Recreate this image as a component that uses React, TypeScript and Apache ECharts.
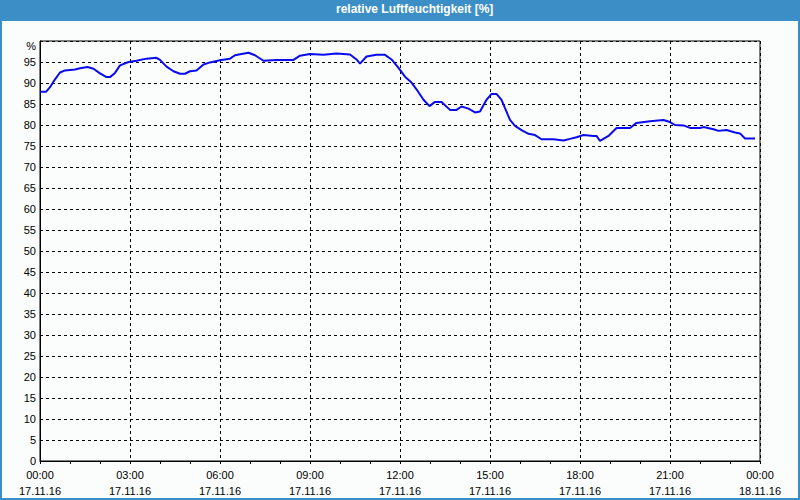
import React, { useEffect, useRef } from "react";
import * as echarts from "echarts";

const titleText = "relative Luftfeuchtigkeit [%]";
const xTickLabels = ["00:00\n17.11.16", "03:00\n17.11.16", "06:00\n17.11.16", "09:00\n17.11.16", "12:00\n17.11.16", "15:00\n17.11.16", "18:00\n17.11.16", "21:00\n17.11.16", "00:00\n18.11.16"];
// minutes since 17.11.16 00:00
const minutes = [0, 12, 20, 29, 40, 50, 70, 80, 95, 107, 120, 133, 140, 150, 160, 177, 193, 213, 233, 240, 253, 267, 280, 290, 300, 313, 327, 340, 360, 380, 390, 403, 417, 430, 447, 473, 507, 520, 540, 567, 593, 620, 633, 640, 653, 673, 690, 703, 717, 730, 743, 753, 767, 779, 790, 803, 820, 833, 843, 857, 870, 880, 893, 903, 913, 923, 930, 940, 950, 963, 977, 990, 1003, 1027, 1047, 1060, 1073, 1087, 1107, 1113, 1120, 1137, 1153, 1180, 1193, 1220, 1247, 1260, 1270, 1287, 1300, 1320, 1327, 1347, 1357, 1373, 1390, 1400, 1410, 1430];
const humidity = [87.9, 87.9, 89, 90.7, 92.5, 93.0, 93.2, 93.5, 93.8, 93.4, 92.3, 91.4, 91.4, 92.4, 94.2, 95.0, 95.3, 95.8, 96.0, 95.5, 93.9, 92.8, 92.2, 92.2, 92.8, 93.0, 94.4, 94.9, 95.4, 95.8, 96.6, 96.9, 97.2, 96.6, 95.3, 95.5, 95.5, 96.5, 96.9, 96.7, 97.0, 96.8, 95.6, 94.6, 96.3, 96.7, 96.7, 95.6, 93.6, 91.5, 90.1, 88.5, 86.0, 84.5, 85.5, 85.5, 83.6, 83.6, 84.4, 83.9, 83.0, 83.2, 86.0, 87.4, 87.4, 86.0, 84.0, 81.2, 79.8, 78.8, 77.9, 77.6, 76.6, 76.6, 76.3, 76.7, 77.1, 77.6, 77.4, 77.4, 76.2, 77.4, 79.3, 79.3, 80.5, 80.9, 81.2, 80.7, 80.0, 79.9, 79.3, 79.3, 79.5, 79.0, 78.6, 78.8, 78.2, 78.0, 76.8, 76.8];

export default function App() {
  const ref = useRef<HTMLDivElement>(null);
  useEffect(() => {
    if (!ref.current) return;
    const chart = echarts.init(ref.current, undefined, { renderer: "svg" });
    const font = "'Liberation Sans', Arial, sans-serif";
    chart.setOption({
      animation: false,
      backgroundColor: "#fafdfb",
      title: {
        text: titleText,
        left: 336,
        top: 3,
        padding: 0,
        textStyle: { color: "#ffffff", fontSize: 12, fontWeight: "bold", fontFamily: font },
      },
      graphic: [
        { type: "rect", z: -1, shape: { x: 0, y: 0, width: 800, height: 21 }, style: { fill: "#3c8fc6" } },
        { type: "rect", z: 10, shape: { x: 1, y: 1, width: 798, height: 498 }, style: { fill: "none", stroke: "#3c8fc6", lineWidth: 2 } },
        { type: "text", x: 36, y: 46, style: { text: "%", align: "right", verticalAlign: "middle", fontSize: 11, fontFamily: font, fill: "#000" } },
      ],
      grid: { left: 40, top: 41, right: 40, bottom: 39, show: true, borderColor: "#000", borderWidth: 1, backgroundColor: "transparent" },
      xAxis: {
        type: "value",
        min: 0,
        max: 1440,
        interval: 180,
        axisLine: { show: true, lineStyle: { color: "#000", width: 1 } },
        axisTick: { show: true, length: 3, lineStyle: { color: "#000" } },
        minorTick: { show: true, splitNumber: 3, length: 3, lineStyle: { color: "#000" } },
        splitLine: { show: true, lineStyle: { color: "#000", type: [3, 3], width: 1 } },
        axisLabel: {
          color: "#000",
          fontSize: 11,
          fontFamily: font,
          lineHeight: 16,
          margin: 6,
          formatter: (v: number) => xTickLabels[Math.round(v / 180)] ?? "",
        },
      },
      yAxis: {
        type: "value",
        min: 0,
        max: 100,
        interval: 5,
        axisLine: { show: true, lineStyle: { color: "#000", width: 1 } },
        axisTick: { show: false },
        splitLine: { show: true, lineStyle: { color: "#000", type: [3, 3], width: 1 } },
        axisLabel: {
          color: "#000",
          fontSize: 11,
          fontFamily: font,
          margin: 4,
          formatter: (v: number) => (v === 100 ? "" : String(v)),
        },
      },
      series: [
        {
          type: "line",
          data: minutes.map((m, i) => [m, humidity[i]]),
          showSymbol: false,
          lineStyle: { color: "#0a0af0", width: 2 },
          itemStyle: { color: "#0a0af0" },
        },
      ],
    });
    return () => chart.dispose();
  }, []);
  return <div ref={ref} style={{ position: "fixed", left: 0, top: 0, width: 800, height: 500 }} />;
}
